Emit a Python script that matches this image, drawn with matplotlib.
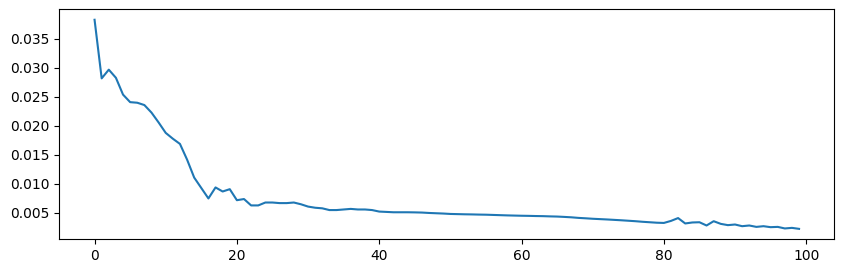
import matplotlib
matplotlib.use("Agg")
import matplotlib.pyplot as plt
import numpy as np

# loss per epoch
loss_head = [
    0.0383, 0.0282, 0.0297, 0.0283, 0.0254, 0.0241, 0.0240, 0.0236, 0.0223, 0.0206,
    0.0188, 0.0178, 0.0169, 0.0142, 0.0111, 0.0093, 0.0075, 0.0094, 0.0087, 0.0091,
    0.0072, 0.0074, 0.0063, 0.0063, 0.0068, 0.0068, 0.0067, 0.0067, 0.0068, 0.0065,
    0.0061, 0.0059, 0.0058, 0.0055, 0.0055, 0.0056, 0.0057, 0.0056, 0.0056, 0.0055,
]
loss_mid = [
    0.00524, 0.00518, 0.00512, 0.00512, 0.00512, 0.00510, 0.00507, 0.00500, 0.00495, 0.00490,
    0.00483, 0.00480, 0.00477, 0.00475, 0.00472, 0.00470, 0.00466, 0.00462, 0.00458, 0.00455,
    0.00452, 0.00450, 0.00447, 0.00445, 0.00441, 0.00438, 0.00432, 0.00425, 0.00415, 0.00408,
]
loss_tail = [
    0.00400, 0.00394, 0.00388, 0.00381, 0.00374, 0.00366, 0.00358, 0.00348, 0.00340, 0.00332,
    0.00328, 0.00363, 0.00412, 0.00319, 0.00336, 0.00340, 0.00284, 0.00358, 0.00312, 0.00290,
    0.00301, 0.00272, 0.00284, 0.00260, 0.00272, 0.00255, 0.00260, 0.00233, 0.00243, 0.00226,
]
loss = loss_head + loss_mid + loss_tail
epochs = np.arange(len(loss))

fig = plt.figure(figsize=(8.44, 2.74), dpi=100)
ax = fig.add_axes([0.0703, 0.1266, 0.9182, 0.8394])
ax.plot(epochs, loss, color="#1f77b4", linewidth=1.5)
ax.set_xticks([0, 20, 40, 60, 80, 100])
ax.set_yticks([0.005, 0.010, 0.015, 0.020, 0.025, 0.030, 0.035])

fig.savefig("out.png", dpi=100)
